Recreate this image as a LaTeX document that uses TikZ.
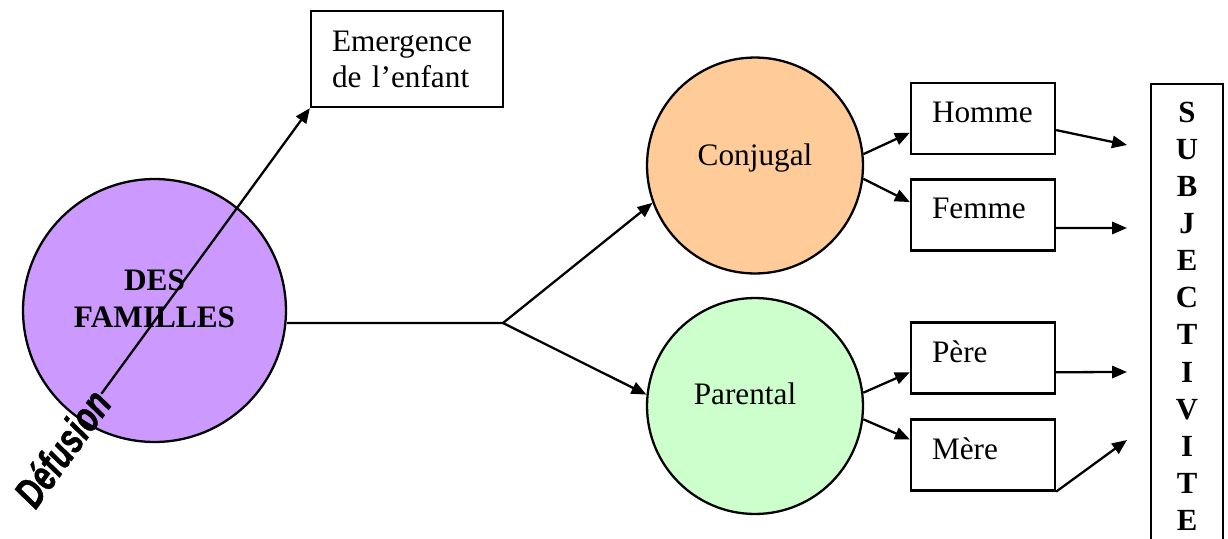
\documentclass[tikz,border=0pt]{standalone}
\usepackage{fontspec}
\setmainfont{Liberation Serif}
\newfontfamily\arialfont[FakeBold=1.2]{Liberation Sans}
\usetikzlibrary{arrows.meta}

\definecolor{famviolet}{HTML}{CC99FF}
\definecolor{conjorange}{HTML}{FFCC99}
\definecolor{parvert}{HTML}{CCFFCC}

\begin{document}
\begin{tikzpicture}[x=0.02cm,y=-0.02cm,line width=1.3pt,>={Triangle[length=8.5pt,width=7pt]},
rond/.style={circle,draw,inner sep=0pt,font=\fontsize{17.8}{21}\selectfont},
boite/.style={draw,rectangle,inner xsep=0.42cm,inner ysep=0pt,align=left,font=\fontsize{17.8}{20.5}\selectfont},
petite/.style={boite,text width=2.04cm,minimum height=1.42cm,text depth=0.25cm}]
\useasboundingbox (0,0) rectangle (1228,538);
\clip (0,0) rectangle (1228,538);

\node[rond,fill=famviolet,minimum size=5.26cm,align=center,font=\bfseries\fontsize{17.8}{21}\selectfont] (fam) at (154.5,310.5) {DES\\FAMILLES\\[-7pt]\mbox{}};
\node[boite,text width=3.0cm,minimum height=1.92cm] (emerg) at (407,59) {Emergence\\de l'enfant};
\node[rotate=54,inner sep=0pt,font=\arialfont\bfseries\itshape\fontsize{24}{24}\selectfont] (def) at (62,448) {\scalebox{0.73}[1]{Défusion}};

\node[rond,fill=conjorange,minimum size=4.32cm,text depth=0.45cm] (conj) at (755,165.5) {Conjugal};
\node[rond,fill=parvert,minimum size=4.32cm,text depth=0.51cm] (par) at (755,406) {Parental\kern0.4cm};

\node[petite] (homme) at (983,118.5) {Homme};
\node[petite] (femme) at (983,215) {Femme};
\node[petite] (pere) at (983,358) {Père};
\node[petite] (mere) at (983,455) {Mère};

\node[draw,anchor=north,minimum width=1.44cm,inner ysep=0.36cm,align=center,font=\bfseries\fontsize{17.5}{21.1}\selectfont] (subj) at (1187,83)
  {S\\U\\B\\J\\E\\C\\T\\I\\V\\I\\T\\E};

\coordinate (br) at (503,323);
\coordinate (sH) at (1127,145);
\coordinate (sF) at (1127,228);
\coordinate (sP) at (1127,372);
\coordinate (sM) at (1127,440);

\draw[->] (def.east)--(emerg.south west);
\draw[->] (fam.east |- br)--(br)--(conj.200);
\draw[->] (br)--(par.174);

\draw[->] (conj.6)--(homme.191);
\draw[->] (conj.353)--(femme.170);
\draw[->] (par.7)--(pere.191);
\draw[->] (par.353)--(mere.168);

\draw[->] (homme.351)--(sH);
\draw[->] (femme.350)--(sF);
\draw[->] (pere.349)--(sP);
\draw[->] (mere.south east)--(sM);

\end{tikzpicture}
\end{document}
